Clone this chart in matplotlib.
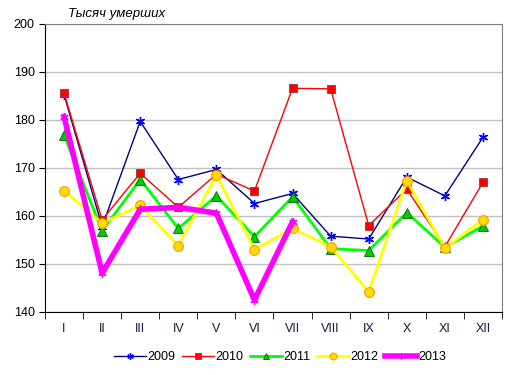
import matplotlib
matplotlib.use("Agg")
import matplotlib.pyplot as plt

months = ["I", "II", "III", "IV", "V", "VI", "VII", "VIII", "IX", "X", "XI", "XII"]
y2009 = [185.3, 157.8, 179.7, 167.6, 169.7, 162.6, 164.7, 155.8, 155.2, 168.1, 164.2, 176.4]
y2010 = [185.6, 159.2, 168.9, 161.8, 168.7, 165.2, 186.6, 186.5, 158.0, 165.6, 153.6, 167.0]
y2011 = [176.9, 156.9, 167.6, 157.4, 164.2, 155.7, 164.0, 153.2, 152.8, 160.7, 153.5, 157.9]
y2012 = [165.3, 158.5, 162.2, 153.8, 168.5, 153.0, 157.4, 153.6, 144.2, 167.3, 153.3, 159.2]
y2013 = [180.7, 148.1, 161.4, 161.8, 160.6, 142.5, 158.8]
yticks = [140, 150, 160, 170, 180, 190, 200]

plt.rcParams['font.family'] = ['Liberation Sans', 'DejaVu Sans']
fig = plt.figure(figsize=(5.17, 3.75), dpi=100)
ax = fig.add_axes([45/517, 1 - 312/375, 457/517, 288/375])

x = list(range(1, 13))
ax.plot(x, y2009, color='#000080', lw=1, marker=(6, 2, 0), ms=6.5, mec='#0000ff', mew=1, label='2009', zorder=3)
ax.plot(x, y2010, color='#ff0000', lw=1, marker='s', ms=6, mfc='#ff0000', mec='#993333', mew=0.6, label='2010', zorder=3)
ax.plot(x, y2011, color='#00ff00', lw=2, marker='^', ms=7, mfc='#00cc00', mec='#006600', mew=0.6, label='2011', zorder=3)
ax.plot(x, y2012, color='#ffff00', lw=2, marker='o', ms=7, mfc='#ffdd00', mec='#ff9900', mew=0.8, label='2012', zorder=3)
ax.plot(x[:len(y2013)], y2013, color='#ff00ff', lw=4, marker=(6, 2, 0), ms=6, mec='#ff00ff', mew=1, label='2013', zorder=4)

ax.set_xlim(0.5, 12.5)
ax.set_ylim(140, 200)
ax.set_yticks(yticks)
ax.set_xticks(x)
ax.set_xticklabels(months)
ax.set_xticks([i + 0.5 for i in range(0, 13)], minor=True)
ax.tick_params(axis='x', which='major', length=0, pad=8, labelsize=9, labelcolor='#1a1a40')
ax.tick_params(axis='x', which='minor', length=5, direction='out', color='black')
ax.tick_params(axis='y', length=4, direction='out', labelsize=9, color='black')
ax.yaxis.grid(True, color='#c0c0c0', lw=1)
ax.set_axisbelow(True)
for s in ['top', 'right']:
    ax.spines[s].set_color('#808080')
for s in ['left', 'bottom']:
    ax.spines[s].set_color('black')

fig.text(68/517, 1 - 14/375, 'Тысяч умерших', fontsize=9.5, style='italic', va='center', ha='left')

fig.legend(loc='center', bbox_to_anchor=(280/517, 1 - 357/375), ncol=5, frameon=False,
           fontsize=9, handlelength=2.6, columnspacing=0.5, handletextpad=0.1, borderaxespad=0,
           markerscale=0.7)

fig.savefig('out.png', dpi=100)
